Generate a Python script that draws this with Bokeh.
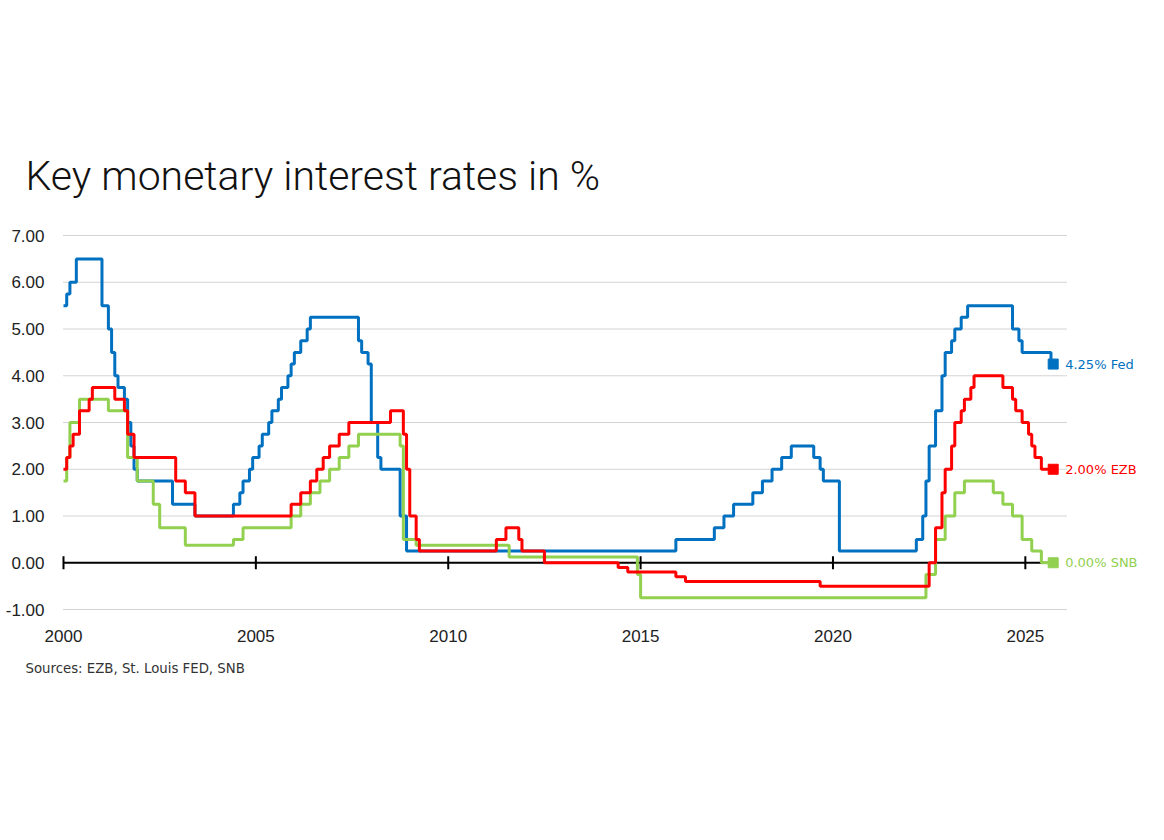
from bokeh.plotting import figure
from bokeh.models import Range1d
from bokeh.core.properties import value
from bokeh.embed import file_html
from bokeh.resources import INLINE

# Policy rates in %, monthly change points ("YYYY-MM": new level)
fed_dates = ["2000-01", "2000-02", "2000-03", "2000-05", "2001-01", "2001-03", "2001-04",
             "2001-05", "2001-06", "2001-08", "2001-09", "2001-10", "2001-11", "2001-12",
             "2002-11", "2003-06", "2004-06", "2004-08", "2004-09", "2004-11", "2004-12",
             "2005-02", "2005-03", "2005-05", "2005-06", "2005-08", "2005-09", "2005-11",
             "2005-12", "2006-01", "2006-03", "2006-05", "2006-06", "2007-09", "2007-10",
             "2007-12", "2008-01", "2008-03", "2008-04", "2008-10", "2008-12", "2015-12",
             "2016-12", "2017-03", "2017-06", "2017-12", "2018-03", "2018-06", "2018-09",
             "2018-12", "2019-07", "2019-09", "2019-10", "2020-03", "2022-03", "2022-05",
             "2022-06", "2022-07", "2022-09", "2022-11", "2022-12", "2023-02", "2023-03",
             "2023-05", "2023-07", "2024-09", "2024-11", "2024-12", "2025-09"]
fed_rates = [5.50, 5.75, 6.00, 6.50, 5.50, 5.00, 4.50,
             4.00, 3.75, 3.50, 3.00, 2.50, 2.00, 1.75,
             1.25, 1.00, 1.25, 1.50, 1.75, 2.00, 2.25,
             2.50, 2.75, 3.00, 3.25, 3.50, 3.75, 4.00,
             4.25, 4.50, 4.75, 5.00, 5.25, 4.75, 4.50,
             4.25, 3.00, 2.25, 2.00, 1.00, 0.25, 0.50,
             0.75, 1.00, 1.25, 1.50, 1.75, 2.00, 2.25,
             2.50, 2.25, 2.00, 1.75, 0.25, 0.50, 1.00,
             1.75, 2.50, 3.25, 4.00, 4.50, 4.75, 5.00,
             5.25, 5.50, 5.00, 4.75, 4.50, 4.25]

ezb_dates = ["2000-01", "2000-02", "2000-03", "2000-04", "2000-06", "2000-09", "2000-10",
             "2001-05", "2001-08", "2001-09", "2001-11", "2002-12", "2003-03", "2003-06",
             "2005-12", "2006-03", "2006-06", "2006-08", "2006-10", "2006-12", "2007-03",
             "2007-06", "2008-07", "2008-11", "2008-12", "2009-01", "2009-03", "2009-04",
             "2011-04", "2011-07", "2011-11", "2011-12", "2012-07", "2014-06", "2014-09",
             "2015-12", "2016-03", "2019-09", "2022-07", "2022-09", "2022-11", "2022-12",
             "2023-02", "2023-03", "2023-05", "2023-06", "2023-08", "2023-09", "2024-06",
             "2024-09", "2024-10", "2024-12", "2025-02", "2025-03", "2025-04", "2025-06"]
ezb_rates = [2.00, 2.25, 2.50, 2.75, 3.25, 3.50, 3.75,
             3.50, 3.25, 2.75, 2.25, 1.75, 1.50, 1.00,
             1.25, 1.50, 1.75, 2.00, 2.25, 2.50, 2.75,
             3.00, 3.25, 2.75, 2.00, 1.00, 0.50, 0.25,
             0.50, 0.75, 0.50, 0.25, 0.00, -0.10, -0.20,
             -0.30, -0.40, -0.50, 0.00, 0.75, 1.50, 2.00,
             2.50, 3.00, 3.25, 3.50, 3.75, 4.00, 3.75,
             3.50, 3.25, 3.00, 2.75, 2.50, 2.25, 2.00]

snb_dates = ["2000-01", "2000-02", "2000-03", "2000-06", "2001-03", "2001-09", "2001-12",
             "2002-05", "2002-07", "2003-03", "2004-06", "2004-09", "2005-12", "2006-03",
             "2006-06", "2006-09", "2006-12", "2007-03", "2007-06", "2007-09", "2008-10",
             "2008-11", "2009-03", "2011-08", "2014-12", "2015-01", "2022-06", "2022-09",
             "2022-12", "2023-03", "2023-06", "2024-03", "2024-06", "2024-09", "2024-12",
             "2025-03", "2025-06"]
snb_rates = [1.75, 2.25, 3.00, 3.50, 3.25, 2.25, 1.75,
             1.25, 0.75, 0.375, 0.50, 0.75, 1.00, 1.25,
             1.50, 1.75, 2.00, 2.25, 2.50, 2.75, 2.50,
             0.50, 0.375, 0.125, -0.25, -0.75, -0.25, 0.50,
             1.00, 1.50, 1.75, 1.50, 1.25, 1.00, 0.50,
             0.25, 0.00]

last_date = "2025-09-22"
series_names = ["Fed", "EZB", "SNB"]
series_colors = ["#0070C0", "#FF0000", "#92D050"]
year_ticks = [2000, 2005, 2010, 2015, 2020, 2025]
rate_ticks = [-1, 0, 1, 2, 3, 4, 5, 6, 7]
title_text = "Key monetary interest rates in %"
source_text = "Sources: EZB, St. Louis FED, SNB"


def to_year(s):
    parts = [int(v) for v in s.split("-")]
    y, m = parts[0], parts[1]
    d = parts[2] if len(parts) > 2 else 1
    return y + (m - 1) / 12 + (d - 1) / 365


# canvas geometry: the plotting area covers the whole page and the chart
# region (2000..GRID_END, -1..7) sits at a fixed pixel box inside it
W, H = 1164, 840
LEFT_PX, RIGHT_PX, TOP_PX, BOTTOM_PX = 63, 1066, 235, 609
GRID_END = 2026.07
AXIS_END = 2025.83
x0, y_lo, y_hi = year_ticks[0], rate_ticks[0], rate_ticks[-1]
px_per_year = (RIGHT_PX - LEFT_PX) / (GRID_END - x0)
px_per_unit = (BOTTOM_PX - TOP_PX) / (y_hi - y_lo)
x_range = Range1d(x0 - LEFT_PX / px_per_year, x0 + (W - LEFT_PX) / px_per_year)
y_range = Range1d(y_lo - (H - BOTTOM_PX) / px_per_unit, y_hi + TOP_PX / px_per_unit)

p = figure(width=W, height=H, output_backend="svg", toolbar_location=None,
           x_range=x_range, y_range=y_range, min_border=0,
           outline_line_color=None, background_fill_color="white",
           border_fill_color="white")
p.axis.visible = False
p.grid.visible = False

# dotted horizontal grid
grid_levels = [t for t in rate_ticks if t != 0]
p.multi_line([[x0, GRID_END] for _ in grid_levels], [[t, t] for t in grid_levels],
             line_color="#A8A8A8", line_dash="1 1", line_width=1)

# zero line with year ticks
p.line([x0, AXIS_END], [0, 0], line_color="black", line_width=2)
p.scatter(year_ticks, [0] * len(year_ticks), marker="dash", angle=1.5708, size=13,
          line_color="black", line_width=2)

# tick labels
p.text(x=[x0] * len(rate_ticks), y=rate_ticks, text=[f"{t:.2f}" for t in rate_ticks],
       x_offset=-19, text_align="right", text_baseline="middle",
       text_font=value("Liberation Sans"), text_font_size="17px", text_color="#222222")
p.text(x=year_ticks, y=[y_lo] * len(year_ticks), text=[str(t) for t in year_ticks],
       y_offset=26, text_align="center", text_baseline="middle",
       text_font=value("Liberation Sans"), text_font_size="17px", text_color="#222222")

# rate series
all_dates = [fed_dates, ezb_dates, snb_dates]
all_rates = [fed_rates, ezb_rates, snb_rates]
end_x = to_year(last_date)
for order in (0, 2, 1):
    xs = [to_year(d) for d in all_dates[order]] + [end_x]
    ys = list(all_rates[order]) + [all_rates[order][-1]]
    c = series_colors[order]
    p.step(xs, ys, mode="after", line_color=c, line_width=3)
    p.scatter([end_x], [ys[-1]], marker="square", size=10, color=c)

# end-of-series labels
last_vals = [r[-1] for r in all_rates]
p.text(x=[end_x] * 3, y=last_vals,
       text=[f"{v:.2f}% {n}" for v, n in zip(last_vals, series_names)],
       x_offset=12, text_baseline="middle", text_color=series_colors,
       text_font=value("DejaVu Sans"), text_font_size="13px")

# title and source note
p.text(x=[x0], y=[y_hi], text=[title_text], x_offset=-38, y_offset=-60,
       text_baseline="alphabetic", text_font=value("Roboto Light"),
       text_font_size="41px", text_color="#111111")
p.text(x=[x0], y=[y_lo], text=[source_text], x_offset=-38, y_offset=59,
       text_baseline="middle", text_font=value("DejaVu Sans"),
       text_font_size="13.3px", text_color="#333333")

open("out.html", "w").write(file_html(p, INLINE))
